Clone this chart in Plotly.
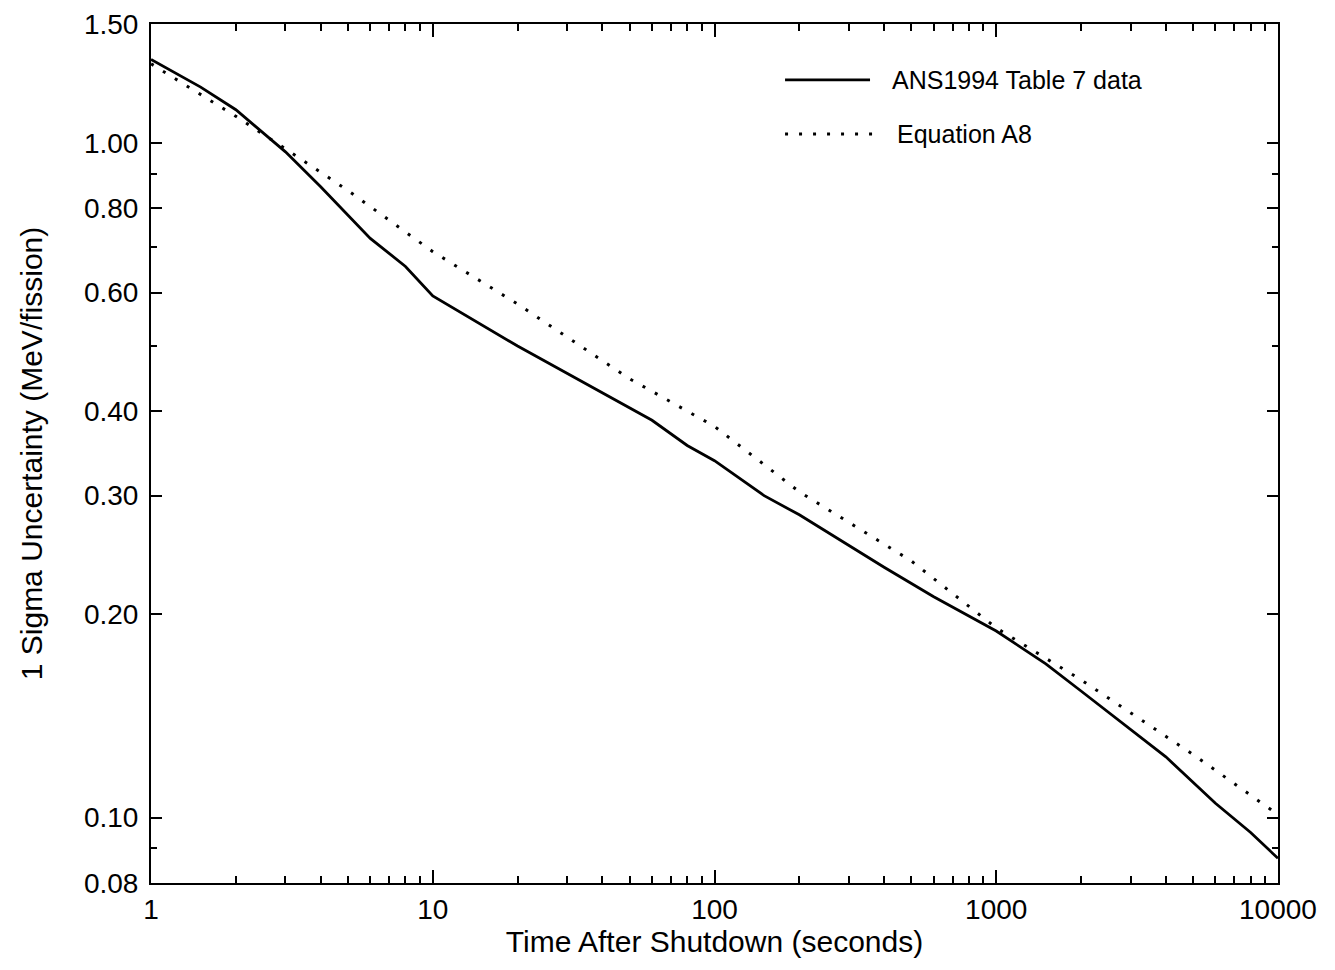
import plotly.graph_objects as go

# ---- data ----
t_table = [1, 1.5, 2, 3, 4, 6, 8, 10, 20, 40, 60, 80, 100, 150, 200, 400, 600,
           1000, 1500, 2000, 4000, 6000, 8000, 10000]
sigma_table = [1.33, 1.21, 1.12, 0.97, 0.861, 0.722, 0.656, 0.593, 0.50, 0.426,
               0.388, 0.356, 0.338, 0.300, 0.281, 0.235, 0.2125, 0.189, 0.169,
               0.154, 0.123, 0.105, 0.095, 0.087]

t_eq = [1, 2, 3, 5, 10, 20, 50, 100, 200, 500, 1000, 2000, 5000, 10000]
sigma_eq = [1.31, 1.095, 0.98, 0.85, 0.69, 0.577, 0.447, 0.38, 0.304, 0.24,
            0.191, 0.160, 0.124, 0.101]

x_major = [1, 10, 100, 1000, 10000]
x_major_text = ["1", "10", "100", "1000", "10000"]
x_minor = [m * d for d in (1, 10, 100, 1000) for m in range(2, 10)]

y_major = [0.08, 0.10, 0.20, 0.30, 0.40, 0.60, 0.80, 1.00, 1.50]
y_major_text = ["0.08", "0.10", "0.20", "0.30", "0.40", "0.60", "0.80", "1.00", "1.50"]
y_minor = [0.09, 0.5, 0.7, 0.9]

series_names = ["ANS1994 Table 7 data", "Equation A8"]

FONT = "Liberation Sans, Arial, sans-serif"

fig = go.Figure()
fig.add_trace(go.Scatter(x=t_table, y=sigma_table, mode="lines", name=series_names[0],
                         line=dict(color="black", width=2.8), showlegend=False))
fig.add_trace(go.Scatter(x=t_eq, y=sigma_eq, mode="lines", name=series_names[1],
                         line=dict(color="black", width=3, dash="3px,11px"),
                         showlegend=False))

# manual legend (long key lines like the reference)
fig.add_shape(type="line", xref="paper", yref="paper", x0=0.5626, x1=0.638,
              y0=0.935, y1=0.935, line=dict(color="black", width=2.8))
fig.add_shape(type="line", xref="paper", yref="paper", x0=0.5626, x1=0.645,
              y0=0.872, y1=0.872, line=dict(color="black", width=3, dash="3px,11px"))
fig.add_annotation(xref="paper", yref="paper", x=0.656, y=0.935, text=series_names[0],
                   showarrow=False, xanchor="left", yanchor="middle",
                   font=dict(family=FONT, size=25, color="black"))
fig.add_annotation(xref="paper", yref="paper", x=0.660, y=0.872, text=series_names[1],
                   showarrow=False, xanchor="left", yanchor="middle",
                   font=dict(family=FONT, size=25, color="black"))

fig.update_layout(
    width=1335, height=970,
    margin=dict(l=143, r=65, t=16, b=95, autoexpand=False),
    paper_bgcolor="white", plot_bgcolor="white",
    font=dict(family=FONT, size=28, color="black"),
)
fig.update_xaxes(
    type="log", range=[-0.0002, 4.0002], automargin=False,
    ticklabeloverflow="allow",
    tickmode="array", tickvals=x_major, ticktext=x_major_text,
    ticks="inside", ticklen=13, tickwidth=2, tickcolor="black",
    showline=True, linecolor="black", linewidth=2, mirror="ticks",
    showgrid=False, zeroline=False,
    minor=dict(tickvals=x_minor, ticks="inside", ticklen=7, tickwidth=2,
               tickcolor="black", showgrid=False),
    ticklabelstandoff=0,
    title=dict(text="Time After Shutdown (seconds)", font=dict(size=30), standoff=4),
)
fig.update_yaxes(
    type="log", range=[-1.0971, 0.1763], automargin=False,
    ticklabeloverflow="allow",
    tickmode="array", tickvals=y_major, ticktext=y_major_text,
    ticks="inside", ticklen=11, tickwidth=2, tickcolor="black",
    showline=True, linecolor="black", linewidth=2, mirror="ticks",
    showgrid=False, zeroline=False,
    minor=dict(tickvals=y_minor, ticks="inside", ticklen=6, tickwidth=2,
               tickcolor="black", showgrid=False),
    ticklabelstandoff=5,
    title=dict(text="1 Sigma Uncertainty (MeV/fission)", font=dict(size=30), standoff=32),
)

fig.write_html("out.html")
